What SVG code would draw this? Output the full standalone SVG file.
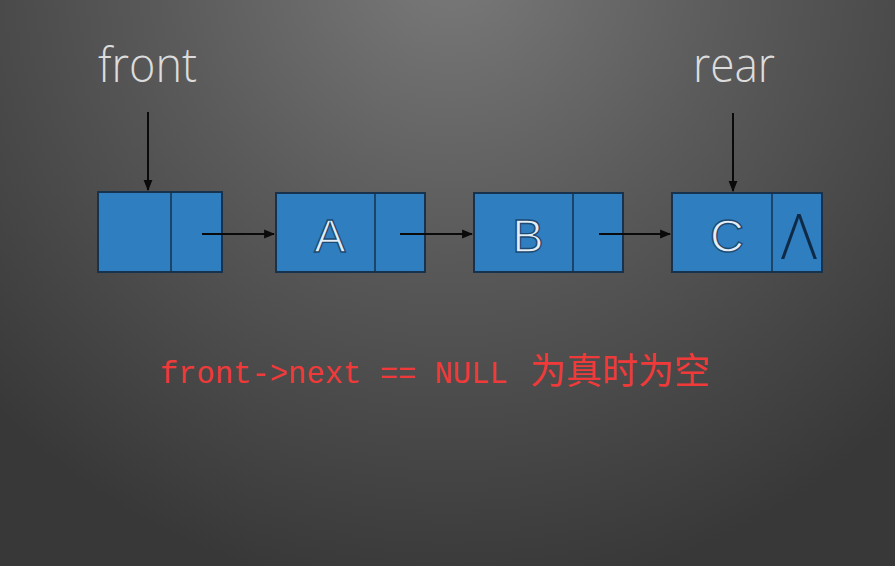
<svg xmlns="http://www.w3.org/2000/svg" width="895" height="566" viewBox="0 0 895 566">
<defs>
<radialGradient id="bg" cx="450" cy="-40" r="640" gradientUnits="userSpaceOnUse">
<stop offset="0" stop-color="#7a7a7a"/>
<stop offset="0.45" stop-color="#5a5a5a"/>
<stop offset="1" stop-color="#383838"/>
</radialGradient>
<marker id="ah" viewBox="0 0 10 10" refX="9" refY="5" markerWidth="5.5" markerHeight="5.5" orient="auto" markerUnits="strokeWidth">
<path d="M0,1 L10,5 L0,9 z" fill="#0a0a0a"/>
</marker>
<style>
.cell{fill:#2f7ec0;stroke:#17324d;stroke-width:2}
.div{stroke:#17324d;stroke-width:1.5}
.lbl{font-family:"Liberation Sans",Arial,sans-serif;font-size:47px;fill:#e4eef8;stroke:#1c4a70;stroke-width:1.4;text-anchor:middle}
.ptr{font-family:"Open Sans","Liberation Sans",Arial,sans-serif;font-weight:300;fill:#dcdcdc}
.con{stroke:#0a0a0a;stroke-width:2;fill:none;marker-end:url(#ah)}
.red{fill:#f03a3a}
</style>
</defs>
<rect width="895" height="566" fill="url(#bg)"/>
<g id="front-label"><text class="ptr" x="98" y="82" font-size="47" textLength="99" lengthAdjust="spacingAndGlyphs">front</text></g>
<g id="rear-label"><text class="ptr" x="693" y="82" font-size="47" textLength="82" lengthAdjust="spacingAndGlyphs">rear</text></g>
<g id="node-head">
<rect class="cell" x="98" y="192" width="124" height="80"/>
<line class="div" x1="171" y1="192" x2="171" y2="272"/>
</g>
<g id="node-A">
<rect class="cell" x="276" y="193" width="149" height="79"/>
<line class="div" x1="375" y1="193" x2="375" y2="272"/>
<text class="lbl" x="330" y="252">A</text>
</g>
<g id="node-B">
<rect class="cell" x="474" y="193" width="149" height="79"/>
<line class="div" x1="573" y1="193" x2="573" y2="272"/>
<text class="lbl" x="528" y="252">B</text>
</g>
<g id="node-C">
<rect class="cell" x="672" y="193" width="150" height="79"/>
<line class="div" x1="772" y1="193" x2="772" y2="272"/>
<text class="lbl" x="727" y="252">C</text>
<text x="799" y="259" font-family="'Open Sans','Liberation Sans',sans-serif" font-weight="300" font-size="62" fill="#0f2a46" text-anchor="middle">Λ</text>
</g>
<g id="connectors">
<line class="con" x1="148" y1="112" x2="148" y2="190"/>
<line class="con" x1="733" y1="113" x2="733" y2="191"/>
<line class="con" x1="202" y1="234" x2="274" y2="234"/>
<line class="con" x1="400" y1="234" x2="472" y2="234"/>
<line class="con" x1="599" y1="234" x2="670" y2="234"/>
</g>
<g id="caption">
<text class="red" x="160" y="383" font-family="'Liberation Mono','Courier New',monospace" font-size="30.5">front-&gt;next == NULL</text>
<text class="red" x="530" y="384" font-family="'Noto Sans CJK SC',sans-serif" font-size="36">为真时为空</text>
</g>
</svg>
